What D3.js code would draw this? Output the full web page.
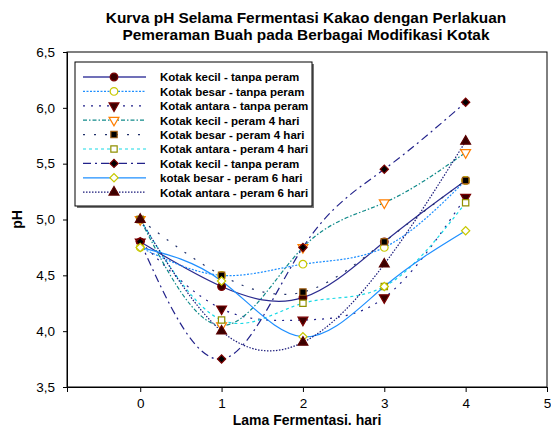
<!DOCTYPE html>
<html>
<head>
<meta charset="utf-8">
<script src="https://cdn.jsdelivr.net/npm/d3@7/dist/d3.min.js"></script>
<style>
  body { margin: 0; background: #fff; }
  svg { font-family: "Liberation Sans", Arial, sans-serif; }
</style>
</head>
<body>
<svg id="chart"></svg>
<script>
const width = 551, height = 427;

// data
const days = [0, 1, 2, 3, 4];
const seriesNames = [
  "Kotak kecil - tanpa peram",
  "Kotak besar - tanpa peram",
  "Kotak antara - tanpa peram",
  "Kotak kecil - peram 4 hari",
  "Kotak besar - peram 4 hari",
  "Kotak antara - peram 4 hari",
  "Kotak kecil - tanpa peram",
  "kotak besar - peram 6 hari",
  "Kotak antara - peram 6 hari"
];
const kecilTanpa = [4.8, 4.4, 4.3, 4.8, 5.35];
const besarTanpa = [4.75, 4.5, 4.6, 4.75, 5.35];
const antaraTanpa = [4.8, 4.2, 4.1, 4.3, 5.2];
const kecilPeram4 = [5.0, 4.05, 4.75, 5.15, 5.6];
const besarPeram4 = [5.0, 4.5, 4.35, 4.8, 5.35];
const antaraPeram4 = [5.0, 4.1, 4.25, 4.4, 5.15];
const kecilTanpa2 = [4.8, 3.75, 4.75, 5.45, 6.05];
const besarPeram6 = [4.75, 4.45, 3.95, 4.4, 4.9];
const antaraPeram6 = [5.0, 4.0, 3.9, 4.6, 5.7];
const xTicks = [0, 1, 2, 3, 4, 5];
const yTicks = [3.5, 4.0, 4.5, 5.0, 5.5, 6.0, 6.5];

const allValues = [kecilTanpa, besarTanpa, antaraTanpa, kecilPeram4, besarPeram4,
                   antaraPeram4, kecilTanpa2, besarPeram6, antaraPeram6];

// styles per series
const styles = [
  {line: "#2b2b8f", dash: null,        sym: d3.symbolCircle,   fill: "#3a0000", stroke: "#7a0000", rot: 0},
  {line: "#1e8fff", dash: "2,1.5",     sym: d3.symbolCircle,   fill: "#fff",    stroke: "#c8c800", rot: 0},
  {line: "#20208a", dash: "2,6",       sym: d3.symbolTriangle, fill: "#3a0000", stroke: "#7a0000", rot: 180},
  {line: "#108a8a", dash: "4,2,1.5,2", sym: d3.symbolTriangle, fill: "#fff",    stroke: "#ff7f00", rot: 180},
  {line: "#20306a", dash: "2,9",       sym: d3.symbolSquare,   fill: "#000",    stroke: "#9a5a10", rot: 0},
  {line: "#19d9e6", dash: "3,3",       sym: d3.symbolSquare,   fill: "#fff",    stroke: "#909000", rot: 0},
  {line: "#22228a", dash: "8,4,2,4",   sym: d3.symbolSquare,   fill: "#000",    stroke: "#7a0000", rot: 45},
  {line: "#1e8fff", dash: null,        sym: d3.symbolSquare,   fill: "#fff",    stroke: "#c8c800", rot: 45},
  {line: "#1a1a7a", dash: "1.5,1.5",   sym: d3.symbolTriangle, fill: "#3a0000", stroke: "#5a0000", rot: 0}
];
const symSize = [46, 46, 42, 42, 40, 40, 34, 34, 42];

const margin = {left: 67, right: 4, top: 52, bottom: 40};

const svg = d3.select("#chart")
    .attr("width", width)
    .attr("height", height);

const x = d3.scaleLinear().domain([-0.9, 5]).range([margin.left, width - margin.right]);
const y = d3.scaleLinear().domain([3.5, 6.5]).range([height - margin.bottom, margin.top]);

// title
svg.append("text")
    .attr("x", 306).attr("y", 23)
    .attr("text-anchor", "middle")
    .attr("font-size", 15.4).attr("font-weight", "bold")
    .text("Kurva pH Selama Fermentasi Kakao dengan Perlakuan");
svg.append("text")
    .attr("x", 306).attr("y", 40)
    .attr("text-anchor", "middle")
    .attr("font-size", 15.4).attr("font-weight", "bold")
    .text("Pemeraman Buah pada Berbagai Modifikasi Kotak");

// axes
const fmt = d => d3.format(".1f")(d).replace(".", ",");
svg.append("g")
    .attr("transform", `translate(${margin.left},0)`)
    .call(d3.axisLeft(y).tickValues(yTicks).tickFormat(fmt).tickSize(4).tickPadding(8))
    .call(g => g.selectAll("text").attr("font-size", 13.5).attr("font-family", "Liberation Sans, Arial"));
svg.append("g")
    .attr("transform", `translate(0,${height - margin.bottom})`)
    .call(d3.axisBottom(x).tickValues(xTicks).tickFormat(d3.format("d")).tickSize(5).tickPadding(6))
    .call(g => g.selectAll("text").attr("font-size", 13.5).attr("font-family", "Liberation Sans, Arial"));
svg.selectAll(".domain").attr("stroke", "#000");

// frame
svg.append("rect")
    .attr("x", margin.left).attr("y", margin.top)
    .attr("width", width - margin.right - margin.left)
    .attr("height", height - margin.bottom - margin.top)
    .attr("fill", "none").attr("stroke", "#000");

// axis titles
svg.append("text")
    .attr("x", 307).attr("y", 425)
    .attr("text-anchor", "middle")
    .attr("font-size", 14).attr("font-weight", "bold")
    .text("Lama Fermentasi. hari");
svg.append("text")
    .attr("transform", `translate(22,${y(5)}) rotate(-90)`)
    .attr("text-anchor", "middle")
    .attr("font-size", 14).attr("font-weight", "bold")
    .text("pH");

// lines
const line = d3.line()
    .x((d, i) => x(days[i]))
    .y(d => y(d))
    .curve(d3.curveNatural);

svg.selectAll(".series")
    .data(allValues)
    .enter().append("path")
    .attr("class", "series")
    .attr("d", line)
    .attr("fill", "none")
    .attr("stroke", (d, i) => styles[i].line)
    .attr("stroke-width", 1.2)
    .attr("stroke-dasharray", (d, i) => styles[i].dash);

// markers
allValues.forEach((vals, i) => {
  const s = styles[i];
  svg.selectAll(".m" + i)
      .data(vals)
      .enter().append("path")
      .attr("class", "m" + i)
      .attr("d", d3.symbol().type(s.sym).size(symSize[i]))
      .attr("transform", (d, j) => `translate(${x(days[j])},${y(d)}) rotate(${s.rot})`)
      .attr("fill", s.fill)
      .attr("stroke", s.stroke)
      .attr("stroke-width", 1.2);
});

// legend
const lg = svg.append("g");
lg.append("rect")
    .attr("x", 77).attr("y", 64).attr("width", 237).attr("height", 144)
    .attr("fill", "#777");
lg.append("rect")
    .attr("x", 75).attr("y", 62).attr("width", 237).attr("height", 144)
    .attr("fill", "#fff").attr("stroke", "#000");

seriesNames.forEach((name, i) => {
  const s = styles[i];
  const ly = 77 + i * 14.4;
  lg.append("line")
      .attr("x1", 83).attr("x2", 146).attr("y1", ly).attr("y2", ly)
      .attr("stroke", i === 0 ? "#7070b8" : s.line)
      .attr("stroke-width", i === 0 ? 2 : 1.2)
      .attr("stroke-dasharray", s.dash);
  lg.append("path")
      .attr("d", d3.symbol().type(s.sym).size(symSize[i]))
      .attr("transform", `translate(114,${ly}) rotate(${s.rot})`)
      .attr("fill", s.fill)
      .attr("stroke", s.stroke)
      .attr("stroke-width", 1.2);
  lg.append("text")
      .attr("x", 160).attr("y", ly + 4.3)
      .attr("font-size", 11.5).attr("font-weight", "bold")
      .text(name);
});
</script>
</body>
</html>
